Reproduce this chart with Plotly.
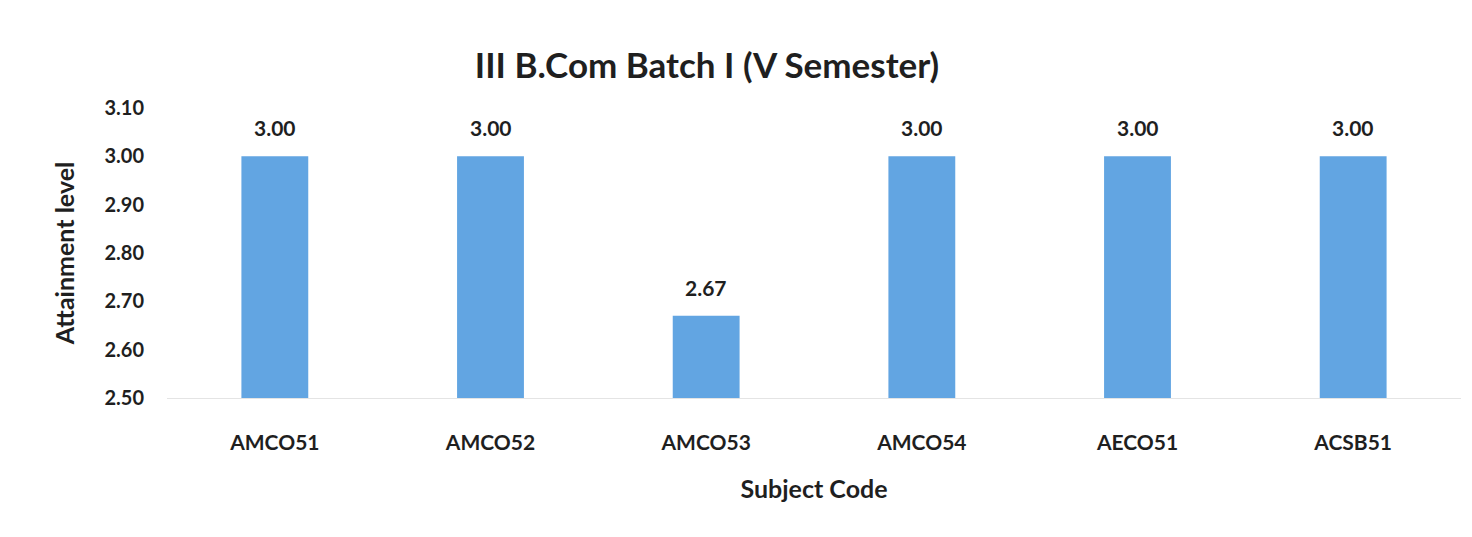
import plotly.graph_objects as go

subjects = ["AMCO51", "AMCO52", "AMCO53", "AMCO54", "AECO51", "ACSB51"]
attainment = [3.00, 3.00, 2.67, 3.00, 3.00, 3.00]
y_ticks = [2.50, 2.60, 2.70, 2.80, 2.90, 3.00, 3.10]
y_base = 2.50

FONT = "Lato, 'Open Sans', sans-serif"
TXT = "#1f1f1f"

fig = go.Figure(go.Bar(
    x=subjects,
    y=[v - y_base for v in attainment],
    base=[y_base] * len(subjects),
    marker=dict(color="#62a5e2", line=dict(width=0)),
    width=0.31,
    hoverinfo="skip",
))

for s, v in zip(subjects, attainment):
    fig.add_annotation(
        x=s, y=v, xref="x", yref="y", text=f"<b>{v:.2f}</b>",
        showarrow=False, yanchor="bottom", yshift=14,
        font=dict(family=FONT, size=21, color=TXT),
    )

fig.update_layout(
    width=1472, height=537,
    paper_bgcolor="white", plot_bgcolor="white",
    margin=dict(l=159, r=19, t=100, b=147, autoexpand=False),
    title=dict(text="<b>III B.Com Batch I (V Semester)</b>", x=699 / 1472, xanchor="center",
               xref="container", y=1 - 58 / 537, yanchor="middle", yref="container",
               font=dict(family=FONT, size=35, color=TXT)),
    showlegend=False,
)
fig.update_yaxes(
    range=[2.50, 3.10], tickvals=y_ticks, ticktext=[f"<b>{v:.2f}</b>" for v in y_ticks],
    showgrid=False, zeroline=False, showline=False, automargin=False,
    tickfont=dict(family=FONT, size=20, color=TXT),
    ticklabelstandoff=22,
    title=dict(text="<b>Attainment level</b>", font=dict(family=FONT, size=25, color=TXT), standoff=22),
    ticks="",
)
fig.update_xaxes(
    showgrid=False, showline=True, linecolor="#e4e4e4", linewidth=1, automargin=False,
    tickfont=dict(family=FONT, size=21, color=TXT),
    ticktext=[f"<b>{s}</b>" for s in subjects], tickvals=subjects,
    ticklabelstandoff=26,
    title=dict(text="<b>Subject Code</b>", font=dict(family=FONT, size=25, color=TXT), standoff=27),
    ticks="",
)

fig.write_html("out.html")
